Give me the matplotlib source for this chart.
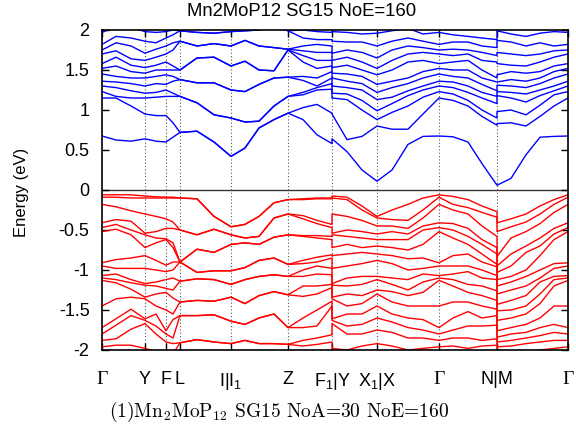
import numpy as np
import matplotlib
matplotlib.use("Agg")
import matplotlib.pyplot as plt

plt.rcParams['font.family'] = ['Liberation Sans', 'DejaVu Sans']
plt.rcParams['mathtext.fontset'] = 'custom'
plt.rcParams['mathtext.rm'] = 'Liberation Sans'
plt.rcParams['mathtext.it'] = 'Liberation Sans:italic'
plt.rcParams['mathtext.bf'] = 'Liberation Sans:bold'
plt.rcParams['axes.unicode_minus'] = False

# ---------------- k-path (distance along path, arbitrary units) ----------------
K_GI = [0, 14, 29, 43, 54, 64, 71, 78, 95, 112, 129]          # Gamma-Y-F-L-I
K_IF = [129, 143, 157, 172, 186, 201, 215, 230]               # I1-Z-F1
K_YX = [230, 245, 260, 275]                                   # Y-X1
K_XN = [275, 290, 306, 321, 337, 351, 366, 380, 395]          # X-Gamma-N
K_MG = [395, 409, 424, 438, 452, 466]                         # M-Gamma

TICK_POS = [0, 43, 64, 78, 129, 186, 230, 275, 337, 395, 466]
TICK_LABELS = ["Γ", "Y", "F", "L", "I|I$_1$", "Z", "F$_1$|Y", "X$_1$|X", "Γ", "N|M", "Γ"]

Y_TICKS = [2, 1.5, 1, 0.5, 0, -0.5, -1, -1.5, -2]
Y_TICK_LABELS = ["2", "1.5", "1", "0.5", "0", "-0.5", "-1", "-1.5", "-2"]

# ---------------- conduction bands (eV), one row per k point ----------------
CB_GI = [
    [0.675, 1.15, 1.23, 1.30, 1.36, 1.45, 1.52, 1.58, 1.70, 1.75, 1.82, 1.97],
    [0.625, 1.15, 1.17, 1.28, 1.35, 1.42, 1.55, 1.66, 1.74, 1.84, 1.92, 2.04],
    [0.61, 1.05, 1.15, 1.24, 1.33, 1.40, 1.48, 1.56, 1.64, 1.80, 1.90, 2.03],
    [0.64, 0.95, 1.15, 1.21, 1.30, 1.40, 1.46, 1.53, 1.62, 1.71, 1.86, 1.98],
    [0.61, 0.93, 1.16, 1.22, 1.33, 1.42, 1.50, 1.56, 1.66, 1.76, 1.84, 1.97],
    [0.60, 0.93, 1.17, 1.25, 1.32, 1.44, 1.50, 1.60, 1.70, 1.80, 1.90, 1.98],
    [0.66, 0.84, 1.17, 1.21, 1.36, 1.42, 1.50, 1.55, 1.75, 1.84, 1.94, 2.00],
    [0.72, 0.72, 1.17, 1.17, 1.38, 1.38, 1.50, 1.50, 1.86, 1.86, 1.99, 1.99],
    [0.735, 0.735, 1.09, 1.09, 1.34, 1.34, 1.65, 1.65, 1.80, 1.80, 1.97, 1.97],
    [0.60, 0.60, 0.94, 0.94, 1.34, 1.34, 1.66, 1.66, 1.83, 1.83, 1.96, 1.96],
    [0.42, 0.42, 0.90, 0.90, 1.25, 1.25, 1.55, 1.55, 1.80, 1.80, 1.98, 1.98],
]
CB_IF = [
    [0.42, 0.42, 0.90, 0.90, 1.25, 1.25, 1.55, 1.55, 1.80, 1.80, 1.98, 1.98],
    [0.525, 0.525, 0.85, 0.85, 1.23, 1.23, 1.61, 1.61, 1.87, 1.87, 1.99, 1.99],
    [0.775, 0.775, 0.86, 0.86, 1.32, 1.32, 1.50, 1.50, 1.80, 1.80, 2.00, 2.00],
    [0.88, 0.88, 1.05, 1.05, 1.40, 1.40, 1.49, 1.49, 1.78, 1.78, 2.05, 2.05],
    [0.96, 0.96, 1.17, 1.17, 1.41, 1.41, 1.75, 1.75, 1.76, 1.76, 1.99, 1.99],
    [0.88, 1.03, 1.19, 1.22, 1.37, 1.42, 1.60, 1.68, 1.74, 1.80, 1.90, 2.00],
    [0.69, 1.07, 1.25, 1.28, 1.30, 1.40, 1.52, 1.62, 1.72, 1.82, 1.88, 1.98],
    [0.58, 0.96, 1.26, 1.33, 1.40, 1.48, 1.55, 1.62, 1.72, 1.80, 1.88, 1.97],
]
CB_YX = [
    [0.64, 0.95, 1.15, 1.21, 1.30, 1.40, 1.46, 1.53, 1.62, 1.71, 1.86, 1.98],
    [0.48, 0.63, 1.13, 1.20, 1.28, 1.36, 1.45, 1.56, 1.66, 1.75, 1.85, 1.97],
    [0.25, 0.67, 1.00, 1.12, 1.25, 1.33, 1.42, 1.50, 1.60, 1.72, 1.85, 1.95],
    [0.11, 0.80, 0.88, 0.99, 1.13, 1.22, 1.32, 1.44, 1.52, 1.65, 1.80, 1.96],
]
CB_XN = [
    [0.11, 0.80, 0.88, 0.99, 1.13, 1.22, 1.32, 1.44, 1.52, 1.65, 1.80, 1.96],
    [0.25, 0.76, 0.97, 1.08, 1.16, 1.28, 1.36, 1.50, 1.62, 1.75, 1.86, 1.99],
    [0.57, 0.76, 1.05, 1.18, 1.24, 1.33, 1.40, 1.60, 1.70, 1.80, 1.90, 2.02],
    [0.67, 0.95, 1.16, 1.25, 1.30, 1.40, 1.48, 1.62, 1.72, 1.78, 1.86, 1.95],
    [0.675, 1.15, 1.23, 1.30, 1.36, 1.45, 1.52, 1.58, 1.70, 1.75, 1.82, 1.97],
    [0.665, 1.12, 1.20, 1.28, 1.35, 1.42, 1.50, 1.60, 1.68, 1.76, 1.85, 1.94],
    [0.60, 1.05, 1.12, 1.22, 1.30, 1.40, 1.50, 1.62, 1.70, 1.75, 1.85, 1.92],
    [0.33, 0.92, 1.00, 1.15, 1.22, 1.32, 1.40, 1.50, 1.62, 1.72, 1.80, 1.90],
    [0.06, 0.81, 0.90, 1.08, 1.17, 1.24, 1.35, 1.40, 1.60, 1.68, 1.78, 1.88],
]
CB_MG = [
    [0.06, 0.83, 0.98, 1.18, 1.23, 1.31, 1.35, 1.44, 1.58, 1.72, 1.87, 1.99],
    [0.145, 0.84, 1.00, 1.15, 1.22, 1.30, 1.38, 1.48, 1.56, 1.70, 1.85, 1.95],
    [0.44, 0.80, 0.94, 1.10, 1.20, 1.28, 1.36, 1.46, 1.55, 1.68, 1.80, 1.92],
    [0.66, 0.92, 1.06, 1.18, 1.25, 1.33, 1.40, 1.48, 1.60, 1.70, 1.84, 1.96],
    [0.67, 1.05, 1.19, 1.24, 1.30, 1.40, 1.48, 1.55, 1.66, 1.74, 1.80, 1.98],
    [0.675, 1.15, 1.23, 1.30, 1.36, 1.45, 1.52, 1.58, 1.70, 1.75, 1.82, 1.97],
]

# ---------------- valence bands (eV), one row per k point ----------------
VB_GI = [
    [-0.06, -0.09, -0.18, -0.41, -0.47, -0.52, -0.91, -0.95, -1.07, -1.10, -1.13, -1.45, -1.72, -1.80, -1.88, -1.96],
    [-0.06, -0.09, -0.21, -0.37, -0.43, -0.49, -0.87, -0.98, -1.05, -1.12, -1.16, -1.36, -1.61, -1.69, -1.86, -1.94],
    [-0.06, -0.10, -0.26, -0.39, -0.50, -0.56, -0.85, -0.98, -1.12, -1.16, -1.24, -1.34, -1.49, -1.57, -1.74, -1.94],
    [-0.075, -0.10, -0.30, -0.54, -0.56, -0.72, -0.82, -0.98, -1.17, -1.19, -1.34, -1.36, -1.61, -1.63, -1.67, -1.98],
    [-0.085, -0.10, -0.33, -0.52, -0.60, -0.66, -0.88, -1.00, -1.15, -1.20, -1.30, -1.45, -1.55, -1.70, -1.80, -2.02],
    [-0.09, -0.10, -0.36, -0.48, -0.61, -0.62, -0.94, -1.02, -1.12, -1.23, -1.28, -1.50, -1.76, -1.80, -1.90, -2.05],
    [-0.09, -0.10, -0.40, -0.48, -0.66, -0.72, -0.90, -1.00, -1.10, -1.25, -1.35, -1.55, -1.62, -1.85, -1.92, -2.05],
    [-0.10, -0.10, -0.50, -0.50, -0.90, -0.90, -0.90, -0.90, -1.14, -1.14, -1.40, -1.40, -1.57, -1.57, -1.91, -1.91],
    [-0.11, -0.11, -0.56, -0.56, -0.74, -0.74, -1.03, -1.03, -1.11, -1.11, -1.38, -1.38, -1.57, -1.57, -1.87, -1.87],
    [-0.33, -0.33, -0.49, -0.49, -0.78, -0.78, -1.01, -1.01, -1.12, -1.12, -1.39, -1.39, -1.56, -1.56, -1.90, -1.90],
    [-0.46, -0.46, -0.56, -0.56, -0.68, -0.68, -1.01, -1.01, -1.18, -1.18, -1.34, -1.34, -1.64, -1.64, -1.92, -1.92],
]
VB_IF = [
    [-0.46, -0.46, -0.56, -0.56, -0.68, -0.68, -1.01, -1.01, -1.18, -1.18, -1.34, -1.34, -1.64, -1.64, -1.92, -1.92],
    [-0.43, -0.43, -0.60, -0.60, -0.66, -0.66, -0.97, -0.97, -1.12, -1.12, -1.42, -1.42, -1.68, -1.68, -1.88, -1.88],
    [-0.33, -0.33, -0.58, -0.58, -0.68, -0.68, -0.88, -0.88, -1.08, -1.08, -1.32, -1.32, -1.60, -1.60, -1.92, -1.92],
    [-0.16, -0.16, -0.35, -0.35, -0.59, -0.59, -0.85, -0.85, -1.06, -1.06, -1.27, -1.27, -1.55, -1.55, -1.92, -1.92],
    [-0.12, -0.12, -0.30, -0.30, -0.56, -0.56, -0.93, -0.93, -1.08, -1.08, -1.31, -1.31, -1.72, -1.72, -1.93, -1.93],
    [-0.11, -0.12, -0.32, -0.36, -0.57, -0.58, -0.88, -0.92, -1.00, -1.08, -1.20, -1.33, -1.60, -1.72, -1.88, -1.95],
    [-0.10, -0.11, -0.38, -0.42, -0.57, -0.60, -0.84, -0.90, -0.95, -1.05, -1.20, -1.30, -1.50, -1.70, -1.85, -1.93],
    [-0.10, -0.11, -0.43, -0.47, -0.58, -0.62, -0.81, -0.85, -0.98, -1.06, -1.18, -1.22, -1.39, -1.45, -1.81, -1.90],
]
VB_YX = [
    [-0.075, -0.10, -0.30, -0.54, -0.56, -0.72, -0.82, -0.98, -1.17, -1.19, -1.34, -1.36, -1.61, -1.63, -1.67, -1.98],
    [-0.09, -0.12, -0.33, -0.50, -0.58, -0.68, -0.80, -0.95, -1.10, -1.20, -1.30, -1.45, -1.55, -1.70, -1.80, -2.00],
    [-0.20, -0.25, -0.38, -0.52, -0.60, -0.72, -0.78, -0.92, -1.08, -1.18, -1.32, -1.42, -1.55, -1.68, -1.80, -1.95],
    [-0.33, -0.35, -0.45, -0.55, -0.62, -0.70, -0.80, -0.88, -1.08, -1.12, -1.25, -1.30, -1.45, -1.60, -1.75, -1.92],
]
VB_XN = [
    [-0.33, -0.35, -0.45, -0.55, -0.62, -0.70, -0.80, -0.88, -1.08, -1.12, -1.25, -1.30, -1.45, -1.60, -1.75, -1.92],
    [-0.25, -0.37, -0.45, -0.52, -0.62, -0.72, -0.82, -0.92, -1.10, -1.18, -1.27, -1.40, -1.55, -1.65, -1.78, -1.95],
    [-0.18, -0.38, -0.48, -0.55, -0.62, -0.75, -0.86, -1.00, -1.12, -1.25, -1.32, -1.45, -1.60, -1.72, -1.85, -2.00],
    [-0.10, -0.25, -0.35, -0.45, -0.50, -0.68, -0.85, -0.98, -1.05, -1.15, -1.28, -1.45, -1.62, -1.75, -1.85, -1.98],
    [-0.06, -0.09, -0.18, -0.41, -0.47, -0.52, -0.91, -0.95, -1.07, -1.10, -1.13, -1.45, -1.72, -1.80, -1.88, -1.96],
    [-0.08, -0.18, -0.25, -0.42, -0.50, -0.60, -0.82, -0.95, -1.05, -1.12, -1.20, -1.40, -1.60, -1.75, -1.85, -1.95],
    [-0.12, -0.22, -0.30, -0.48, -0.58, -0.68, -0.80, -0.95, -1.02, -1.18, -1.28, -1.40, -1.52, -1.70, -1.85, -1.98],
    [-0.20, -0.28, -0.45, -0.62, -0.68, -0.80, -0.90, -1.00, -1.10, -1.20, -1.32, -1.45, -1.60, -1.70, -1.88, -1.95],
    [-0.27, -0.34, -0.58, -0.72, -0.80, -0.93, -0.96, -1.07, -1.12, -1.26, -1.38, -1.49, -1.57, -1.69, -1.86, -1.94],
]
VB_MG = [
    [-0.41, -0.52, -0.83, -0.95, -1.03, -1.12, -1.20, -1.30, -1.43, -1.51, -1.63, -1.76, -1.84, -1.90, -1.96, -2.05],
    [-0.36, -0.46, -0.60, -0.80, -0.95, -1.08, -1.15, -1.25, -1.38, -1.50, -1.60, -1.72, -1.80, -1.88, -1.95, -2.05],
    [-0.30, -0.40, -0.52, -0.70, -0.78, -1.00, -1.08, -1.20, -1.32, -1.45, -1.55, -1.68, -1.78, -1.85, -1.92, -2.02],
    [-0.20, -0.30, -0.42, -0.60, -0.70, -0.82, -1.00, -1.10, -1.15, -1.30, -1.42, -1.60, -1.72, -1.82, -1.90, -2.00],
    [-0.12, -0.18, -0.28, -0.48, -0.55, -0.62, -0.92, -0.98, -1.08, -1.12, -1.20, -1.45, -1.68, -1.78, -1.88, -1.98],
    [-0.06, -0.09, -0.18, -0.41, -0.47, -0.52, -0.91, -0.95, -1.07, -1.10, -1.13, -1.45, -1.72, -1.80, -1.88, -1.96],
]

TITLE = "Mn2MoP12 SG15 NoE=160"
CAPTION = "(1)Mn$_2$MoP$_{12}$ SG15 NoA=30 NoE=160"
YLABEL = "Energy (eV)"

# ---------------- build ----------------
k = np.array(K_GI + K_IF + K_YX + K_XN + K_MG, dtype=float)
cb = np.array(CB_GI + CB_IF + CB_YX + CB_XN + CB_MG)
vb = np.array(VB_GI + VB_IF + VB_YX + VB_XN + VB_MG)

W, H = 576, 438
fig = plt.figure(figsize=(W / 100, H / 100), dpi=100)
ax = fig.add_axes([102 / W, 1 - 350 / H, 466 / W, 320 / H])

for x in TICK_POS[1:-1]:
    ax.axvline(x, color='#555555', lw=0.8, ls=(0, (1, 2)), zorder=1)
ax.axhline(0, color='#333333', lw=1.0, zorder=1)

for j in range(cb.shape[1]):
    ax.plot(k, cb[:, j], color='#0000ff', lw=1.0, zorder=2)
for j in range(vb.shape[1]):
    ax.plot(k, vb[:, j], color='#ff0000', lw=1.0, zorder=2)

ax.set_xlim(TICK_POS[0], TICK_POS[-1])
ax.set_ylim(-2, 2)
ax.set_xticks(TICK_POS)
ax.set_xticklabels(TICK_LABELS, fontsize=13)
for lbl in ax.get_xticklabels():
    if lbl.get_text() == "Γ":
        lbl.set_fontfamily(['Liberation Serif', 'DejaVu Serif'])
        lbl.set_fontsize(14)
ax.set_yticks(Y_TICKS)
ax.set_yticklabels(Y_TICK_LABELS, fontsize=13)
ax.tick_params(axis='both', direction='in', top=True, right=True, length=5, width=1.0)
ax.tick_params(axis='x', pad=15)
ax.tick_params(axis='y', pad=9)
for s in ax.spines.values():
    s.set_linewidth(1.2)

fig.text(302 / W, 1 - 12 / H, TITLE, ha='center', va='center', fontsize=13.3)
fig.text(22 / W, 1 - 192 / H, YLABEL, ha='center', va='center', rotation=90, fontsize=12)
fig.text(279 / W, 1 - 412 / H, CAPTION, ha='center', va='center', fontsize=14,
         fontfamily=['cmr10', 'DejaVu Serif'], math_fontfamily='cm')

fig.savefig("out.png", dpi=100)
